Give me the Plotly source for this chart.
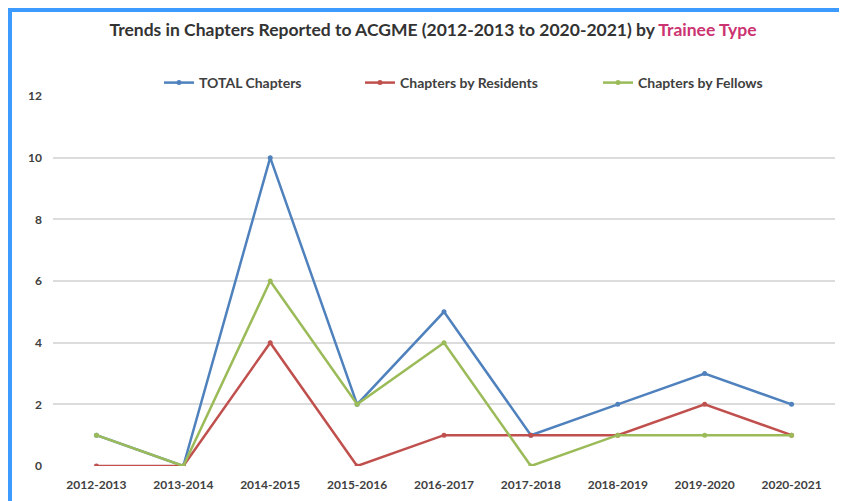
import plotly.graph_objects as go

years = ["2012-2013", "2013-2014", "2014-2015", "2015-2016", "2016-2017",
         "2017-2018", "2018-2019", "2019-2020", "2020-2021"]
total = [1, 0, 10, 2, 5, 1, 2, 3, 2]
residents = [0, 0, 4, 0, 1, 1, 1, 2, 1]
fellows = [1, 0, 6, 2, 4, 0, 1, 1, 1]

# page has an 8px body margin, so the figure is drawn 8px right/down
OFF = 8
W, H = 847 - OFF, 501 - OFF
ML, MR, MT, MB = 53 - OFF, W - (835 - OFF), 96 - OFF, H - (466 - OFF)
PW, PH = W - ML - MR, H - MT - MB

def px(x):  # reference pixel x -> paper x
    return (x - OFF - ML) / PW

def py(y):  # reference pixel y -> paper y
    return (H - MB - (y - OFF)) / PH

FONT = "Lato, sans-serif"

fig = go.Figure()
series = [
    ("TOTAL Chapters", total, "#4f81bd", "legend"),
    ("Chapters by Residents", residents, "#c0504d", "legend2"),
    ("Chapters by Fellows", fellows, "#9bbb59", "legend3"),
]
for name, vals, col, lg in series:
    fig.add_trace(go.Scatter(
        x=years, y=vals, name=name, mode="lines+markers",
        line=dict(color=col, width=2.5),
        marker=dict(color=col, size=5),
        legend=lg,
    ))

leg_common = dict(orientation="h", yanchor="middle", xanchor="left",
                  bgcolor="rgba(0,0,0,0)",
                  font=dict(family=FONT, size=14, color="#404040", weight="bold"),
                  itemwidth=30)
fig.update_layout(
    width=W, height=H,
    margin=dict(l=ML, r=MR, t=MT, b=MB, autoexpand=False),
    paper_bgcolor="white", plot_bgcolor="white",
    title=dict(
        text="<b>Trends in Chapters Reported to ACGME (2012-2013 to 2020-2021) by "
             "<span style='color:#cc3371'>Trainee Type</span></b>",
        x=(433 - OFF) / W, xanchor="center", y=1 - (30 - OFF) / H, yanchor="middle",
        font=dict(family=FONT, size=17.5, color="#333333"),
    ),
    legend=dict(x=px(159), y=py(83), **leg_common),
    legend2=dict(x=px(360), y=py(83), **leg_common),
    legend3=dict(x=px(598), y=py(83), **leg_common),
    xaxis=dict(
        type="category", range=[-0.5, 8.5], showgrid=False, zeroline=False,
        showline=False, ticks="", ticklabelstandoff=10, automargin=False,
        tickfont=dict(family=FONT, size=12, color="#404040", weight="bold"),
    ),
    yaxis=dict(
        range=[0, 12], tickvals=[0, 2, 4, 6, 8, 10, 12], showgrid=True,
        gridcolor="#dcdcdc", gridwidth=1.5, zeroline=False, showline=False,
        ticks="", ticklabelstandoff=10, automargin=False,
        tickfont=dict(family=FONT, size=12, color="#404040", weight="bold"),
    ),
    showlegend=True,
)

border = "#3d9bff"
fig.add_shape(type="rect", xref="paper", yref="paper",
              x0=px(6), x1=px(860), y0=py(6), y1=py(12),
              fillcolor=border, line=dict(width=0), layer="above")
fig.add_shape(type="rect", xref="paper", yref="paper",
              x0=px(6), x1=px(12), y0=py(6), y1=py(520),
              fillcolor=border, line=dict(width=0), layer="above")

fig.write_html("out.html")
